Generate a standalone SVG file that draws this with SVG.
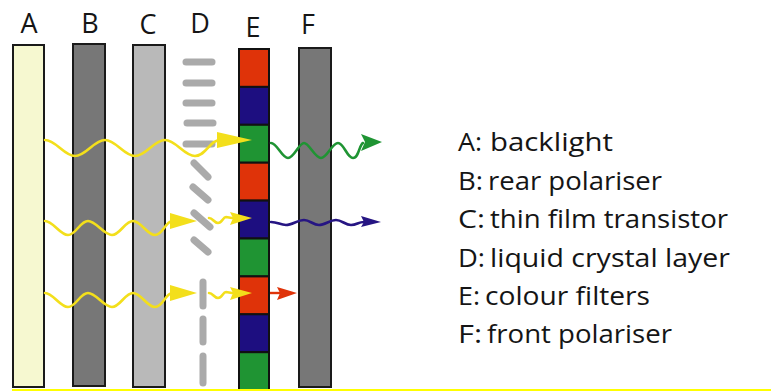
<svg xmlns="http://www.w3.org/2000/svg" width="771" height="391" viewBox="0 0 771 391">
  <style>
    .lbl { font-family: "Open Sans", "Noto Sans", "DejaVu Sans", sans-serif; font-size: 27px; fill: #151515; text-anchor: middle; }
    .leg { font-family: "Open Sans", "Noto Sans", "DejaVu Sans", sans-serif; font-size: 25.5px; fill: #151515; }
    .bar { stroke: #1a1a1a; stroke-width: 2; }
    .cell { stroke: #111; stroke-width: 2; }
    .lc { stroke: #aaaaaa; stroke-width: 7; stroke-linecap: round; fill: none; }
    .ray { fill: none; stroke-width: 2.6; stroke-linecap: round; }
    .yel { stroke: #f3df1b; }
    .yelf { fill: #f3df1b; }
  </style>

  <rect x="0" y="0" width="771" height="391" fill="#ffffff"/>

  <!-- layer captions -->
  <g id="captions">
    <text class="lbl" x="29" y="33">A</text>
    <text class="lbl" x="90" y="33">B</text>
    <text class="lbl" x="148" y="34">C</text>
    <text class="lbl" x="200" y="33">D</text>
    <text class="lbl" x="253" y="37">E</text>
    <text class="lbl" x="308" y="34">F</text>
  </g>

  <!-- A: backlight -->
  <g id="layer-A">
    <rect class="bar" x="13" y="45" width="31" height="342" fill="#f6f8d0"/>
  </g>

  <!-- B: rear polariser -->
  <g id="layer-B">
    <rect class="bar" x="73" y="44" width="32" height="342" fill="#777777"/>
  </g>

  <!-- C: thin film transistor -->
  <g id="layer-C">
    <rect class="bar" x="133" y="45" width="32" height="342" fill="#b9b9b9"/>
  </g>

  <!-- D: liquid crystal molecules -->
  <g id="layer-D">
    <line class="lc" x1="186" y1="62" x2="212" y2="62"/>
    <line class="lc" x1="186" y1="83" x2="212" y2="83"/>
    <line class="lc" x1="186" y1="103" x2="212" y2="103"/>
    <line class="lc" x1="187" y1="123" x2="213" y2="123"/>
    <line class="lc" x1="186" y1="144" x2="212" y2="144"/>
    <line class="lc" x1="194" y1="163" x2="208" y2="177"/>
    <line class="lc" x1="193" y1="187" x2="208" y2="200"/>
    <line class="lc" x1="194" y1="213" x2="210" y2="227"/>
    <line class="lc" x1="194" y1="240" x2="208" y2="252"/>
    <line class="lc" x1="203" y1="282" x2="203" y2="306"/>
    <line class="lc" x1="203" y1="319" x2="203" y2="342"/>
    <line class="lc" x1="203" y1="356" x2="203" y2="383"/>
  </g>

  <!-- E: colour filters -->
  <g id="layer-E">
    <rect class="cell" x="239" y="49" width="30" height="37.9" fill="#df3309"/>
    <rect class="cell" x="239" y="86.9" width="30" height="37.9" fill="#1d0e80"/>
    <rect class="cell" x="239" y="124.8" width="30" height="37.9" fill="#1f9433"/>
    <rect class="cell" x="239" y="162.7" width="30" height="37.9" fill="#df3309"/>
    <rect class="cell" x="239" y="200.6" width="30" height="37.9" fill="#1d0e80"/>
    <rect class="cell" x="239" y="238.5" width="30" height="37.9" fill="#1f9433"/>
    <rect class="cell" x="239" y="276.4" width="30" height="37.9" fill="#df3309"/>
    <rect class="cell" x="239" y="314.3" width="30" height="37.9" fill="#1d0e80"/>
    <rect class="cell" x="239" y="352.2" width="30" height="37.8" fill="#1f9433"/>
  </g>

  <!-- F: front polariser -->
  <g id="layer-F">
    <rect class="bar" x="299" y="48" width="32" height="339" fill="#777777"/>
  </g>

  <!-- light paths -->
  <g id="connectors">
    <!-- top ray: passes to the green filter -->
    <path class="ray yel" d="M45,140 C56,140 64,156 75,156 S94,140 105,140 S124,156 135,156 S154,140 165,140 S184,156 195,156 S210,140 220,140"/>
    <polygon class="yelf" points="217,132 252,140 217,148"/>
    <path class="ray" stroke="#1f9433" d="M271,143 C277,143 282,158 288,158 S299,143 304,143 S315,158 321,158 S332,143 338,143 S347,158 353,158 S359,145 363,143"/>
    <polygon fill="#1f9433" points="361,134 382,142 361,151 365,142"/>

    <!-- middle ray: passes to the blue filter -->
    <path class="ray yel" d="M45,221 C53,221 60,235 68,235 S80,221 88,221 S104,235 112,235 S125,221 133,221 S147,235 155,235 S165,222 172,221"/>
    <polygon class="yelf" points="170,213 197,221 170,229"/>
    <path class="ray yel" d="M209,218 C213,218 214,223 218,223 S223,217 226,217 L232,218"/>
    <polygon class="yelf" points="230,212 252,218 230,225 233,218"/>
    <path class="ray" stroke="#261583" d="M271,222 C278,222 280,225 286,225 S298,220 304,220 S313,225 319,225 S330,220 336,220 S345,225 351,225 S358,222 364,222"/>
    <polygon fill="#261583" points="361,216 381,222 361,227 364,222"/>

    <!-- bottom ray: blocked at the front polariser -->
    <path class="ray yel" d="M45,293 C53,293 60,307 68,307 S80,293 88,293 S104,307 112,307 S125,293 133,293 S147,307 155,307 S165,294 172,293"/>
    <polygon class="yelf" points="170,285 197,293 170,301"/>
    <path class="ray yel" d="M209,293 C213,293 214,298 218,298 S223,292 226,292 L232,293"/>
    <polygon class="yelf" points="230,287 252,293 230,300 233,293"/>
    <line x1="270" y1="293" x2="280" y2="293" stroke="#df3309" stroke-width="2.4"/>
    <polygon fill="#df3309" points="277,287 297,293 277,300 280,293"/>
  </g>

  <!-- baseline rule -->
  <rect x="12" y="389" width="759" height="2" fill="#ffff00"/>

  <!-- key -->
  <g id="legend">
    <text class="leg"><tspan x="458" y="151" textLength="24" lengthAdjust="spacingAndGlyphs">A:</tspan> <tspan x="490" y="151" textLength="123" lengthAdjust="spacingAndGlyphs">backlight</tspan></text>
    <text class="leg"><tspan x="458" y="190" textLength="25" lengthAdjust="spacingAndGlyphs">B:</tspan> <tspan x="488" y="190" textLength="174" lengthAdjust="spacingAndGlyphs">rear polariser</tspan></text>
    <text class="leg"><tspan x="458" y="228" textLength="27" lengthAdjust="spacingAndGlyphs">C:</tspan> <tspan x="490" y="228" textLength="238" lengthAdjust="spacingAndGlyphs">thin film transistor</tspan></text>
    <text class="leg"><tspan x="458" y="267" textLength="27" lengthAdjust="spacingAndGlyphs">D:</tspan> <tspan x="490" y="267" textLength="240" lengthAdjust="spacingAndGlyphs">liquid crystal layer</tspan></text>
    <text class="leg"><tspan x="458" y="305" textLength="22" lengthAdjust="spacingAndGlyphs">E:</tspan> <tspan x="485" y="305" textLength="165" lengthAdjust="spacingAndGlyphs">colour filters</tspan></text>
    <text class="leg"><tspan x="458" y="343" textLength="24" lengthAdjust="spacingAndGlyphs">F:</tspan> <tspan x="487" y="343" textLength="185" lengthAdjust="spacingAndGlyphs">front polariser</tspan></text>
  </g>
</svg>
